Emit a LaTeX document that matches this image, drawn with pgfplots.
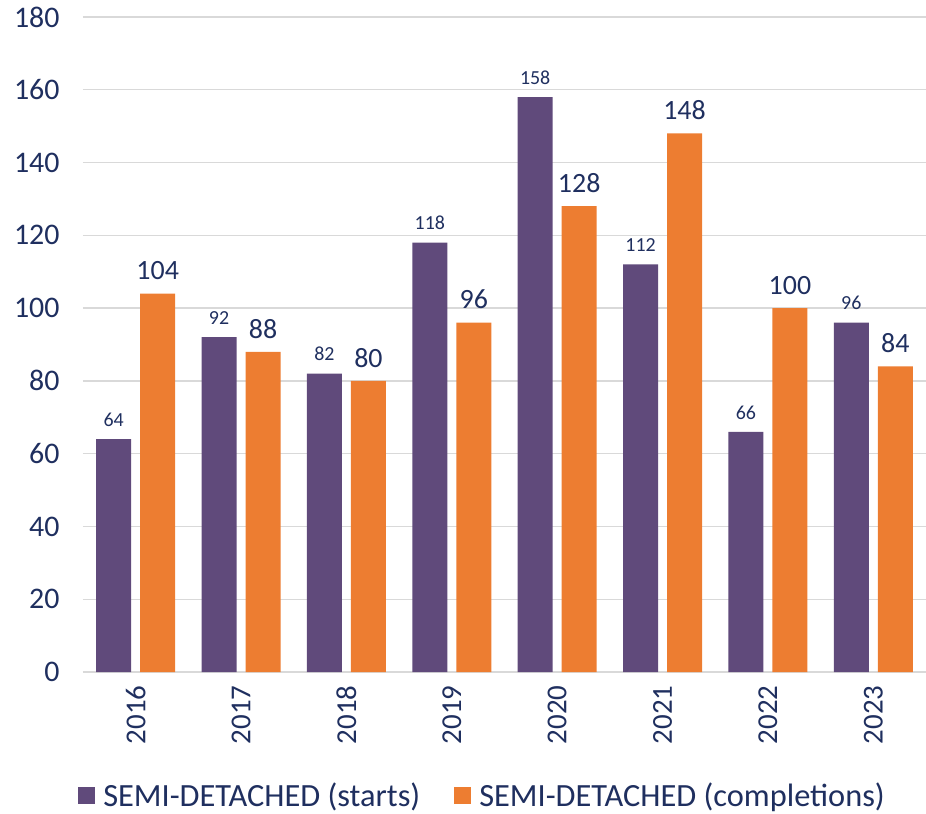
\documentclass[border=0pt]{standalone}
\usepackage{pgfplots}
\pgfplotsset{compat=1.18}
\usepackage{fontspec}
\setmainfont{Carlito}
\definecolor{cpurple}{HTML}{604A7B}
\definecolor{corange}{HTML}{ED7D31}
\definecolor{cnavy}{HTML}{1F2F5F}
\definecolor{cgrid}{HTML}{D9D9D9}
\begin{document}
\begin{tikzpicture}
\begin{axis}[
  scale only axis,
  width=843bp, height=655bp,
  ymin=0, ymax=180, ytick={0,20,...,180},
  xmin=-0.5, xmax=7.5,
  xtick={0,...,7},
  xticklabels={2016,2017,2018,2019,2020,2021,2022,2023},
  x tick label style={rotate=90, anchor=east, font=\fontsize{29}{31}\selectfont, text=cnavy},
  y tick label style={font=\fontsize{30}{32}\selectfont, text=cnavy},
  xticklabel shift=10bp,
  yticklabel shift=20bp,
  /pgf/number format/assume math mode=true,
  ymajorgrids, grid style={cgrid, line width=1.3bp},
  axis x line*=bottom, axis y line*=left,
  x axis line style={draw=cgrid, line width=1.3bp},
  y axis line style={draw=none},
  major tick length=0pt,
  ybar=9bp, bar width=35bp,
  nodes near coords,
  legend style={at={(-0.0094,-0.188)}, anchor=west, draw=none, legend columns=2,
    font=\fontsize{32.5}{34}\selectfont, text=cnavy,
    /tikz/every odd column/.append style={column sep=6bp},
    /tikz/every even column/.append style={column sep=32bp}},
  legend image code/.code={\fill[#1] (-2bp,-8.5bp) rectangle (15bp,8.5bp);},
]
\addplot[fill=cpurple, draw=none,
  every node near coord/.append style={font=\fontsize{20}{22}\selectfont, text=cnavy, yshift=9bp}]
  coordinates {(0,64) (1,92) (2,82) (3,118) (4,158) (5,112) (6,66) (7,96)};
\addplot[fill=corange, draw=none,
  every node near coord/.append style={font=\fontsize{28}{30}\selectfont, text=cnavy, yshift=10bp}]
  coordinates {(0,104) (1,88) (2,80) (3,96) (4,128) (5,148) (6,100) (7,84)};
\legend{SEMI-DETACHED (starts), SEMI-DETACHED (completions)}
\end{axis}
\pgfresetboundingbox
\useasboundingbox (-83bp,-142bp) rectangle (843bp,672bp);
\end{tikzpicture}
\end{document}
